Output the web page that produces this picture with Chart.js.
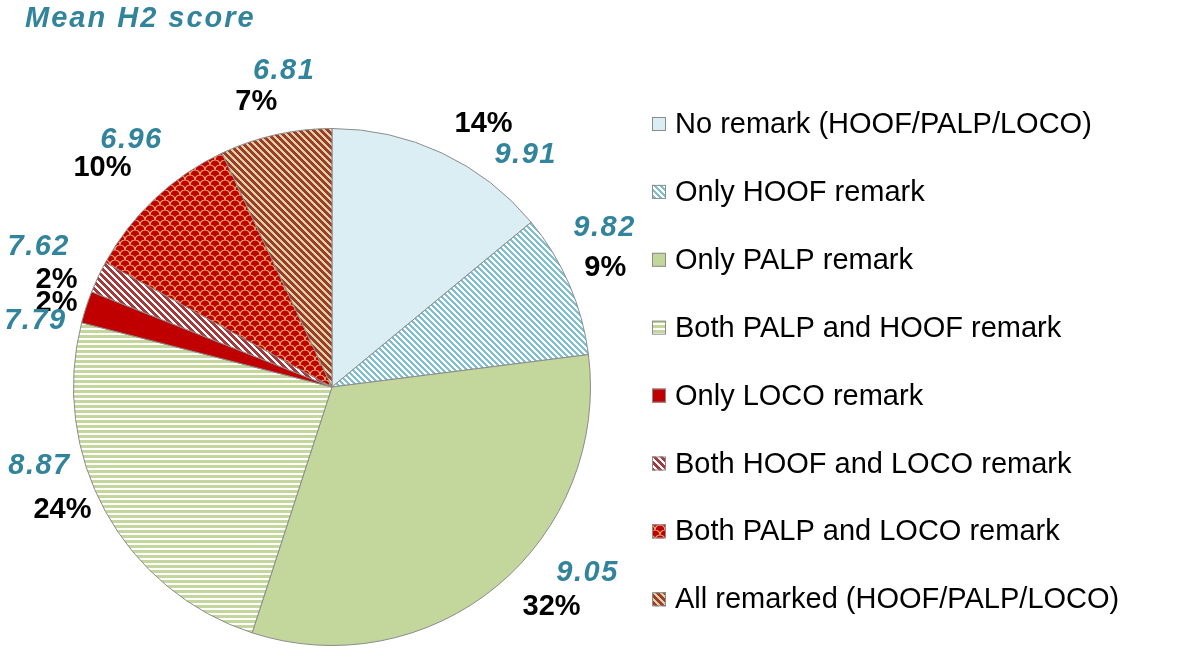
<!DOCTYPE html>
<html><head><meta charset="utf-8">
<script src="https://cdn.jsdelivr.net/npm/chart.js@4.4.0/dist/chart.umd.min.js"></script>
<style>html,body{margin:0;padding:0;background:#fff;}#wrap{width:1200px;height:651px;position:relative;}</style>
</head><body><div id="wrap"><canvas id="c" width="1200" height="651"></canvas></div>
<script>
const chartTitle = 'Mean H2 score';
const categories = [
  'No remark (HOOF/PALP/LOCO)',
  'Only HOOF remark',
  'Only PALP remark',
  'Both PALP and HOOF remark',
  'Only LOCO remark',
  'Both HOOF and LOCO remark',
  'Both PALP and LOCO remark',
  'All remarked (HOOF/PALP/LOCO)'
];
const shares = [14, 9, 32, 24, 2, 2, 10, 7];
const meanScores = ['9.91', '9.82', '9.05', '8.87', '7.79', '7.62', '6.96', '6.81'];
const percentLabels = ['14%', '9%', '32%', '24%', '2%', '2%', '10%', '7%'];

// label placement relative to each slice: [angle offset from slice middle (deg), distance / radius]
const pctPlace   = [[4.8,1.173],[-0.1,1.153],[-5.4,1.201],[4.3,1.146],[-1.1,1.114],[-4.0,1.143],[-3.2,1.226],[-2.3,1.139]];
const scorePlace = [[14.7,1.168],[-6.8,1.220],[-14.4,1.222],[13.7,1.172],[-5.5,1.175],[0.3,1.257],[4.1,1.230],[4.0,1.238]];

function tile(w, h, fn) {
  const c = document.createElement('canvas');
  c.width = w; c.height = h;
  const x = c.getContext('2d');
  fn(x, w, h);
  return x.createPattern(c, 'repeat');
}
function hex(c){return [parseInt(c.slice(1,3),16),parseInt(c.slice(3,5),16),parseInt(c.slice(5,7),16)];}
function pix(w, h, test, fg, bg) {
  return tile(w, h, (x) => {
    const id = x.createImageData(w, h);
    const F = hex(fg), B = hex(bg);
    for (let j = 0; j < h; j++) for (let i = 0; i < w; i++) {
      const c = test(i, j) ? F : B;
      const k = (j * w + i) * 4;
      id.data[k] = c[0]; id.data[k+1] = c[1]; id.data[k+2] = c[2]; id.data[k+3] = 255;
    }
    x.putImageData(id, 0, 0);
  });
}
const diag = (p, wdt) => (i, j) => (((i - j) % p) + p) % p < wdt;

const fills = [
  '#DBEEF4',
  pix(6, 6, diag(6, 3), '#7FBFD4', '#FFFFFF'),
  '#C3D69B',
  pix(5, 5, (i, j) => j < 3, '#C3D69B', '#FFFFFF'),
  '#C00000',
  pix(7, 7, diag(7, 4), '#A8393A', '#FFFFFF'),
  tile(10, 10, (x) => {
    x.fillStyle = '#C00000'; x.fillRect(0, 0, 10, 10);
    x.strokeStyle = '#EBB070'; x.lineWidth = 1.1;
    x.beginPath(); x.arc(5, 5, 5, Math.PI, 2 * Math.PI); x.stroke();
    x.beginPath(); x.arc(0, 10, 5, Math.PI, 2 * Math.PI); x.stroke();
    x.beginPath(); x.arc(10, 10, 5, Math.PI, 2 * Math.PI); x.stroke();
  }),
  pix(7, 7, diag(7, 4), '#9E3A30', '#D9D49B')
];

const FONT = "'Liberation Sans', Arial, sans-serif";
const TEAL = '#31849B';

const overlay = {
  id: 'overlay',
  afterDraw(chart) {
    const ctx = chart.ctx;
    ctx.save();
    // title
    ctx.fillStyle = TEAL;
    ctx.font = 'italic bold 29px ' + FONT;
    ctx.letterSpacing = '2px';
    ctx.textAlign = 'left'; ctx.textBaseline = 'alphabetic';
    ctx.fillText(chartTitle, 25, 27);
    // slice labels
    const meta = chart.getDatasetMeta(0);
    ctx.textAlign = 'center'; ctx.textBaseline = 'middle';
    meta.data.forEach((arc, i) => {
      const p = arc.getProps(['x', 'y', 'startAngle', 'endAngle', 'outerRadius'], true);
      const mid = (p.startAngle + p.endAngle) / 2;
      const put = (pl, txt, font, color, ls) => {
        const a = mid + pl[0] * Math.PI / 180;
        const r = p.outerRadius * pl[1];
        ctx.font = font; ctx.fillStyle = color; ctx.letterSpacing = ls;
        ctx.fillText(txt, p.x + Math.cos(a) * r, p.y + Math.sin(a) * r);
      };
      put(pctPlace[i], percentLabels[i], 'bold 29px ' + FONT, '#000000', '0px');
      put(scorePlace[i], meanScores[i], 'italic bold 29px ' + FONT, TEAL, '1.5px');
    });
    // legend
    ctx.letterSpacing = '0px';
    ctx.textAlign = 'left'; ctx.textBaseline = 'middle';
    ctx.font = '29px ' + FONT;
    const top = 124, step = 67.9;
    categories.forEach((lab, i) => {
      const y = top + i * step;
      ctx.fillStyle = fills[i];
      ctx.fillRect(652, y - 7, 14, 14);
      ctx.strokeStyle = '#8C8C8C'; ctx.lineWidth = 1;
      ctx.strokeRect(652.5, y - 6.5, 13, 13);
      ctx.fillStyle = '#000000';
      ctx.fillText(lab, 675, y + 1);
    });
    ctx.restore();
  }
};

new Chart(document.getElementById('c'), {
  type: 'pie',
  data: {
    labels: categories,
    datasets: [{
      data: shares,
      backgroundColor: fills,
      borderColor: '#8C8C8C',
      borderWidth: 1
    }]
  },
  options: {
    responsive: false,
    animation: false,
    layout: { padding: { left: 73, right: 609, top: 128, bottom: 5 } },
    plugins: { legend: { display: false }, tooltip: { enabled: false } }
  },
  plugins: [overlay]
});
</script>
</body></html>
